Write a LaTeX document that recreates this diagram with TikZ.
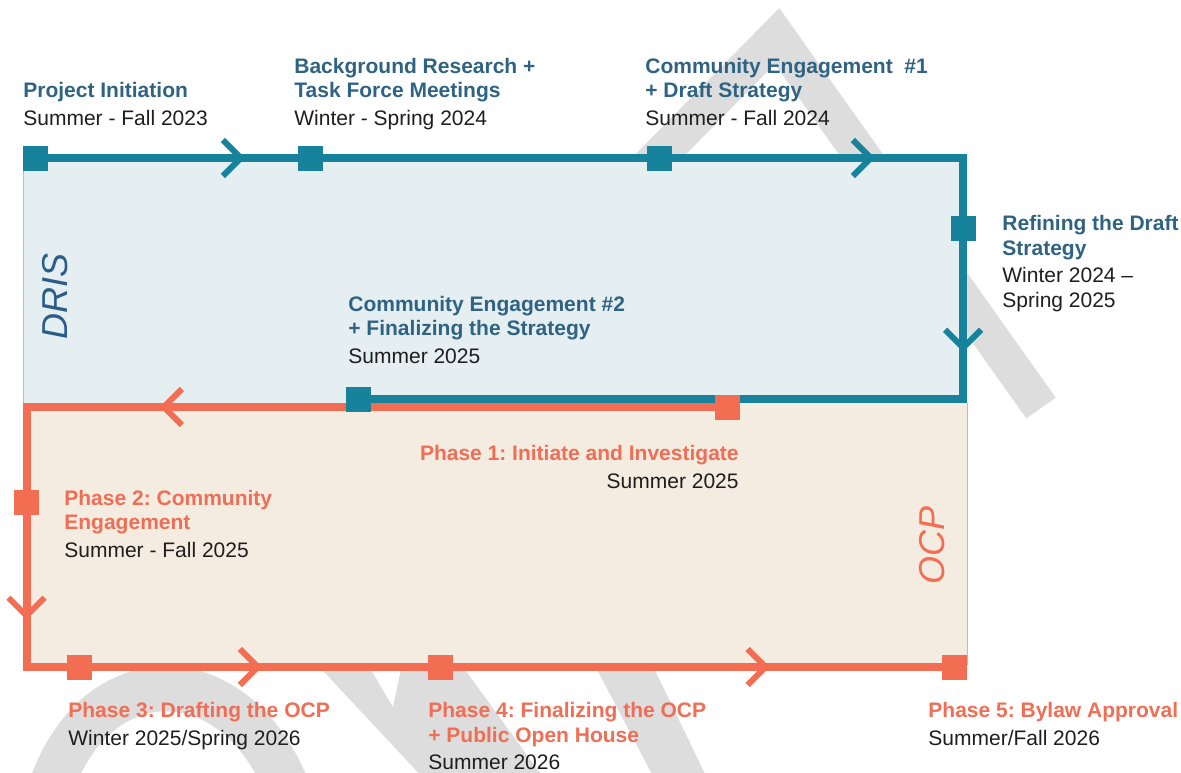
\documentclass[tikz,border=0pt]{standalone}
\usepackage{fontspec}
\setmainfont{Liberation Sans}
\usetikzlibrary{arrows.meta,positioning,decorations.markings}
\definecolor{drisTeal}{HTML}{17829B}
\definecolor{drisInk}{HTML}{2F6383}
\definecolor{drisWord}{HTML}{2A5D8A}
\definecolor{drisFill}{HTML}{E5EEF1}
\definecolor{ocpCoral}{HTML}{F26D52}
\definecolor{ocpInk}{HTML}{EF6E55}
\definecolor{ocpFill}{HTML}{F4ECE1}
\definecolor{bodyInk}{HTML}{1E1E1E}
\definecolor{wmGrey}{HTML}{DDDDDD}
\definecolor{edgeGrey}{HTML}{BBBBBB}
\pgfdeclarelayer{wmark}
\pgfdeclarelayer{panel}
\pgfdeclarelayer{track}
\pgfsetlayers{wmark,panel,track,main}
\frenchspacing

\begin{document}
\begin{tikzpicture}[
  x=0.5pt, y=-0.5pt,
  font=\fontsize{10.5}{12.15}\selectfont,
  bsq/.style={fill=drisTeal, minimum size=12.5pt, inner sep=0pt},
  osq/.style={fill=ocpCoral, minimum size=12.5pt, inner sep=0pt},
  btrack/.style={draw=drisTeal, line width=4pt, line cap=rect},
  otrack/.style={draw=ocpCoral, line width=4pt, line cap=rect},
  chev/.style={postaction={decorate, decoration={markings,
      mark=at position #1 with {\arrow{Straight Barb[length=9pt, width=18pt, line width=3pt]}}}}},
  lbl/.style={anchor=north west, inner sep=0pt, align=left, text=bodyInk},
  rlbl/.style={anchor=north east, inner sep=0pt, align=right, text=bodyInk},
  wmband/.style={draw=wmGrey, line width=18pt},
]
\useasboundingbox (0,0) rectangle (1181,772);

\begin{pgfonlayer}{wmark}
\draw[wmband] (600,216) -- (777,36) -- (1041,408);
\draw[wmband, line width=22.5pt] (50,790) .. controls (95,655) and (235,655) .. (288,790);
\fill[wmGrey] (313,660) -- (365,660) -- (393,707) -- (403,660) -- (458,660) -- (545,780) -- (425,780) -- cycle;
\fill[wmGrey] (592,660) -- (650,660) -- (708,780) -- (655,780) -- cycle;
\end{pgfonlayer}

\begin{pgfonlayer}{panel}
\fill[drisFill] (23,158) rectangle (967,403);
\fill[ocpFill] (23,403) rectangle (967,667);
\draw[edgeGrey, line width=0.5pt] (23,160) -- (23,403);
\draw[edgeGrey, line width=0.5pt] (967,403) -- (967,665);
\end{pgfonlayer}

\node[rotate=90, font=\fontsize{18}{18}\selectfont\itshape, text=drisWord] (dris) at (55,296) {DRIS};
\node[rotate=90, font=\fontsize{18}{18}\selectfont\itshape, text=ocpCoral] (ocp) at (932,545) {OCP};

\node[bsq] (b1) at (35,158) {};
\node[bsq] (b2) at (310,158) {};
\node[bsq] (b3) at (659,158) {};
\node[bsq] (b4) at (963,228) {};
\node[bsq] (b5) at (358,399) {};
\coordinate (bne) at (963,158);
\coordinate (bse) at (963,399);

\node[osq] (o1) at (727,407) {};
\node[osq] (o2) at (26.5,502) {};
\node[osq] (o3) at (79,667) {};
\node[osq] (o4) at (440,667) {};
\node[osq] (o5) at (954.5,667) {};
\coordinate (onw) at (26.5,407);
\coordinate (osw) at (26.5,667);

\begin{pgfonlayer}{track}
\draw[otrack, chev=0.81] (o1.center) -- (onw);
\draw[otrack] (onw) -- (o2.center);
\draw[otrack, chev=0.715] (o2.center) -- (osw);
\draw[otrack] (osw) -- (o3.center);
\draw[otrack, chev=0.507] (o3.center) -- (o4.center);
\draw[otrack, chev=0.641] (o4.center) -- (o5.center);
\draw[btrack, chev=0.764] (b1.center) -- (b2.center);
\draw[btrack] (b2.center) -- (b3.center);
\draw[btrack, chev=0.711] (b3.center) -- (bne);
\draw[btrack] (bne) -- (b4.center);
\draw[btrack, chev=0.725] (b4.center) -- (bse);
\draw[btrack] (bse) -- (b5.center);
\end{pgfonlayer}

\node[lbl] (l1) at (23,80.3) {\strut\textcolor{drisInk}{\bfseries Project Initiation}\\[1.7pt]Summer - Fall 2023};
\node[lbl] (l2) at (294,56) {\strut\textcolor{drisInk}{\bfseries Background Research +}\\\textcolor{drisInk}{\bfseries Task Force Meetings}\\[1.7pt]Winter - Spring 2024};
\node[lbl] (l3) at (645,56) {\strut\textcolor{drisInk}{\bfseries Community Engagement~~\#1}\\\textcolor{drisInk}{\bfseries + Draft Strategy}\\[1.7pt]Summer - Fall 2024};
\node[lbl] (l4) at (1002,213.5) {\strut\textcolor{drisInk}{\bfseries Refining the Draft}\\\textcolor{drisInk}{\bfseries Strategy}\\[1.7pt]Winter 2024 --\\Spring 2025};
\node[lbl] (l5) at (348,294) {\strut\textcolor{drisInk}{\bfseries Community Engagement \#2}\\\textcolor{drisInk}{\bfseries + Finalizing the Strategy}\\[1.7pt]Summer 2025};
\node[rlbl] (l6) at (739,443) {\strut\textcolor{ocpInk}{\bfseries Phase 1: Initiate and Investigate}\\[1.7pt]Summer 2025};
\node[lbl] (l7) at (64,488) {\strut\textcolor{ocpInk}{\bfseries Phase 2: Community}\\\textcolor{ocpInk}{\bfseries Engagement}\\[1.7pt]Summer - Fall 2025};
\node[lbl] (l8) at (68,700.5) {\strut\textcolor{ocpInk}{\bfseries Phase 3: Drafting the OCP}\\[1.7pt]Winter 2025/Spring 2026};
\node[lbl] (l9) at (428,700.5) {\strut\textcolor{ocpInk}{\bfseries Phase 4: Finalizing the OCP}\\\textcolor{ocpInk}{\bfseries + Public Open House}\\[1.7pt]Summer 2026};
\node[lbl] (l10) at (928,700.5) {\strut\textcolor{ocpInk}{\bfseries Phase 5: Bylaw Approval}\\[1.7pt]Summer/Fall 2026};
\end{tikzpicture}
\end{document}
